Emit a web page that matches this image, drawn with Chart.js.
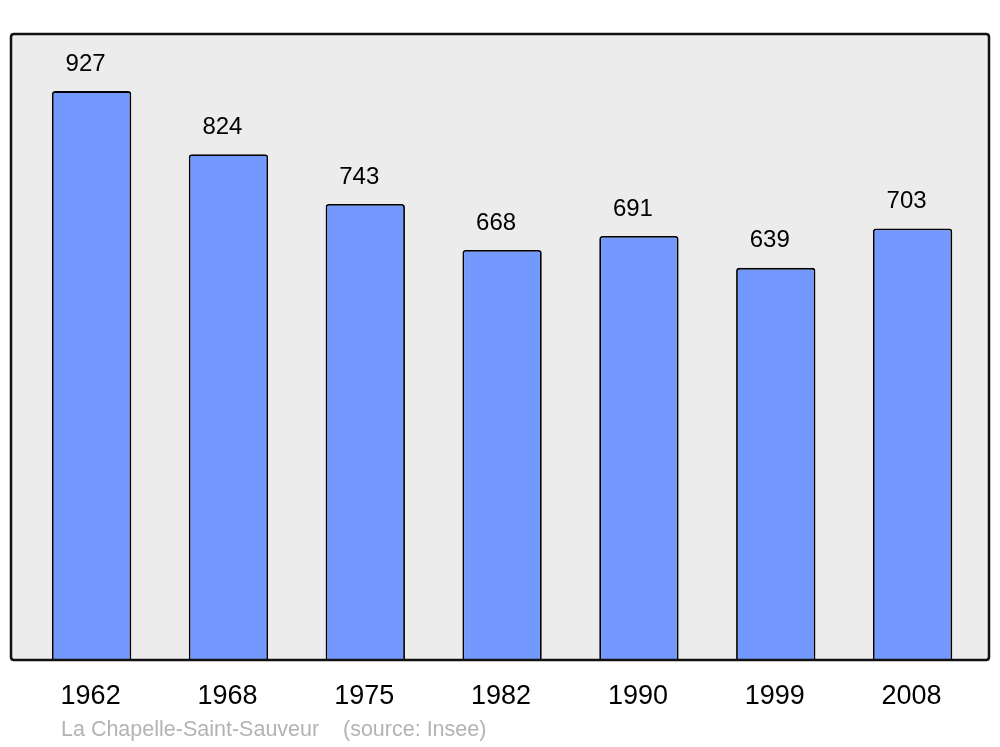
<!DOCTYPE html>
<html>
<head>
<meta charset="utf-8">
<script src="https://cdn.jsdelivr.net/npm/chart.js@4/dist/chart.umd.min.js"></script>
<style>
  html, body { margin: 0; padding: 0; background: #ffffff; }
  #wrap { width: 1000px; height: 747px; position: relative; }
</style>
</head>
<body>
<div id="wrap"><canvas id="c" width="1000" height="747"></canvas></div>
<script>
const years = ['1962', '1968', '1975', '1982', '1990', '1999', '2008'];
const population = [927, 824, 743, 668, 691, 639, 703];
const yMax = 1020;
const footerName = 'La Chapelle-Saint-Sauveur';
const footerSource = '(source: Insee)';

function roundRect(ctx, x, y, w, h, r) {
  ctx.beginPath();
  ctx.moveTo(x + r, y);
  ctx.lineTo(x + w - r, y);
  ctx.quadraticCurveTo(x + w, y, x + w, y + r);
  ctx.lineTo(x + w, y + h - r);
  ctx.quadraticCurveTo(x + w, y + h, x + w - r, y + h);
  ctx.lineTo(x + r, y + h);
  ctx.quadraticCurveTo(x, y + h, x, y + h - r);
  ctx.lineTo(x, y + r);
  ctx.quadraticCurveTo(x, y, x + r, y);
  ctx.closePath();
}

const boxPlugin = {
  id: 'box',
  beforeDatasetsDraw(chart) {
    const ctx = chart.ctx;
    const a = chart.chartArea;
    ctx.save();
    roundRect(ctx, 11, a.top, 978, a.bottom - a.top, 3);
    ctx.fillStyle = '#ececec';
    ctx.fill();
    ctx.restore();
  },
  afterDatasetsDraw(chart) {
    const ctx = chart.ctx;
    const a = chart.chartArea;
    ctx.save();
    roundRect(ctx, 11, a.top, 978, a.bottom - a.top, 3);
    ctx.lineWidth = 2.5;
    ctx.strokeStyle = '#111111';
    ctx.stroke();

    // value labels
    const meta = chart.getDatasetMeta(0);
    ctx.fillStyle = '#000000';
    ctx.font = '24px "Liberation Sans", Arial, sans-serif';
    ctx.textAlign = 'center';
    ctx.textBaseline = 'middle';
    meta.data.forEach((bar, i) => {
      ctx.fillText(String(population[i]), bar.x - 6, bar.y - 27);
    });

    // x tick labels via the scale
    const xs = chart.scales.x;
    ctx.font = '27px "Liberation Sans", Arial, sans-serif';
    years.forEach((y, i) => {
      ctx.fillText(y, xs.getPixelForValue(i) - 1, a.bottom + 37);
    });

    // footer
    ctx.fillStyle = '#b3b3b3';
    ctx.font = '21.5px "Liberation Sans", Arial, sans-serif';
    ctx.textAlign = 'left';
    ctx.fillText(footerName, 61, 730);
    ctx.fillText(footerSource, 343, 730);
    ctx.restore();
  }
};

new Chart(document.getElementById('c'), {
  type: 'bar',
  data: {
    labels: years,
    datasets: [{
      data: population,
      backgroundColor: '#7399ff',
      borderColor: '#000000',
      borderWidth: 1.8,
      borderRadius: { topLeft: 3, topRight: 3, bottomLeft: 0, bottomRight: 0 },
      borderSkipped: 'bottom',
      barPercentage: 0.58,
      categoryPercentage: 1.0
    }]
  },
  options: {
    responsive: false,
    animation: false,
    devicePixelRatio: 1,
    layout: { padding: { left: 23.2, right: 19, top: 34, bottom: 87 } },
    plugins: { legend: { display: false }, tooltip: { enabled: false }, title: { display: false } },
    scales: {
      x: { display: false, offset: true },
      y: { display: false, min: 0, max: yMax }
    }
  },
  plugins: [boxPlugin]
});
</script>
</body>
</html>
